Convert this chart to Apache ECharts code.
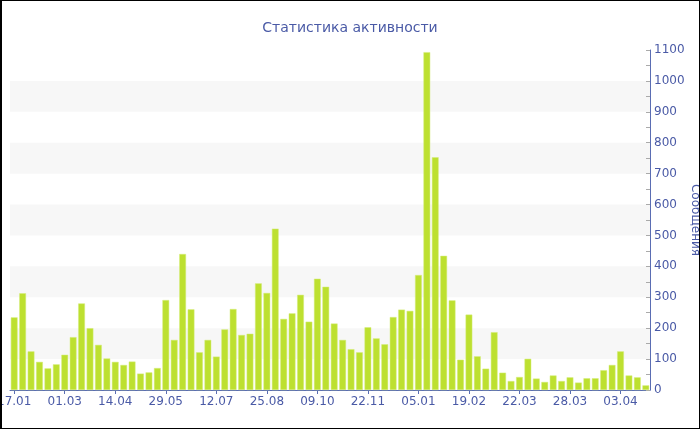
<!DOCTYPE html>
<html>
<head>
<meta charset="utf-8">
<script src="https://cdn.jsdelivr.net/npm/echarts@6/dist/echarts.min.js"></script>
<style>
html,body{margin:0;padding:0;background:#fff;}
#wrap{position:relative;width:700px;height:430px;}
#chart{position:absolute;left:0;top:0;width:700px;height:430px;}
#frame{position:absolute;left:0;top:0;width:700px;height:429px;box-sizing:border-box;border:1px solid #000;border-left:2px solid #000;pointer-events:none;}
</style>
</head>
<body>
<div id="wrap"><div id="chart"></div><div id="frame"></div></div>
<script>
const titleText = 'Статистика активности';
const yAxisName = 'Сообщения';
const categories = [
  '17.01','24.01','31.01','07.02','14.02','21.02',
  '01.03','08.03','15.03','22.03','29.03','06.04',
  '14.04','21.04','28.04','05.05','13.05','21.05',
  '29.05','05.06','12.06','19.06','27.06','05.07',
  '12.07','19.07','26.07','02.08','10.08','18.08',
  '25.08','01.09','08.09','15.09','23.09','01.10',
  '09.10','16.10','23.10','30.10','07.11','15.11',
  '22.11','29.11','06.12','13.12','21.12','29.12',
  '05.01','12.01','19.01','26.01','03.02','11.02',
  '19.02','24.02','01.03','06.03','11.03','16.03',
  '22.03','23.03','24.03','25.03','26.03','27.03',
  '28.03','29.03','30.03','31.03','01.04','02.04',
  '03.04','04.04','05.04','06.04'
];
const messages = [
  235, 313, 125, 91, 70, 83,
  114, 171, 280, 200, 146, 102,
  91, 81, 92, 53, 57, 71,
  291, 162, 440, 261, 122, 162,
  108, 196, 262, 178, 182, 345,
  314, 522, 230, 248, 308, 221,
  360, 334, 215, 162, 132, 122,
  203, 167, 148, 236, 260, 256,
  372, 1093, 753, 434, 290, 98,
  244, 109, 69, 187, 56, 29,
  42, 101, 37, 26, 47, 29,
  41, 24, 38, 38, 64, 81,
  125, 47, 41, 15
];
const yMin = 0, yMax = 1100, yStep = 100;

const textColor = '#4a5aa6';
const chart = echarts.init(document.getElementById('chart'), null, {renderer: 'canvas'});
chart.setOption({
  animation: false,
  title: {
    text: titleText,
    left: 'center',
    top: 16,
    textStyle: {color: textColor, fontFamily: 'DejaVu Sans', fontSize: 14, fontWeight: 'normal'}
  },
  grid: {left: 10, right: 50, top: 50, bottom: 40, containLabel: false, outerBoundsMode: 'none'},
  xAxis: {
    type: 'category',
    data: categories,
    axisLine: {lineStyle: {color: '#5a6db3', width: 1}},
    axisTick: {show: true, interval: 5, alignWithLabel: true, length: 4, lineStyle: {color: '#5a6db3'}},
    axisLabel: {interval: 5, color: textColor, fontFamily: 'DejaVu Sans', fontSize: 12, margin: 6},
    splitLine: {show: false}
  },
  yAxis: {
    type: 'value',
    position: 'right',
    min: yMin, max: yMax, interval: yStep,
    name: yAxisName,
    nameLocation: 'middle',
    nameRotate: -90,
    nameGap: 39,
    nameMoveOverlap: false,
    nameTextStyle: {color: textColor, fontFamily: 'DejaVu Sans', fontSize: 12},
    axisLine: {show: true, lineStyle: {color: '#5a6db3', width: 1}},
    axisTick: {show: true, inside: true, length: 4, lineStyle: {color: '#aaaaaa'}},
    minorTick: {show: true, splitNumber: 2, length: 4, lineStyle: {color: '#aaaaaa'}},
    axisLabel: {color: textColor, fontFamily: 'DejaVu Sans', fontSize: 12, margin: 4,
      formatter: function (v) { return String(v); }},
    splitLine: {show: false},
    splitArea: {show: true, areaStyle: {color: ['rgba(255,255,255,0)', '#f7f7f7']}}
  },
  series: [{
    type: 'bar',
    data: messages,
    barCategoryGap: '20%',
    itemStyle: {color: '#bde030', borderColor: '#d4ec7a', borderWidth: 0.5}
  }]
});
</script>
</body>
</html>
